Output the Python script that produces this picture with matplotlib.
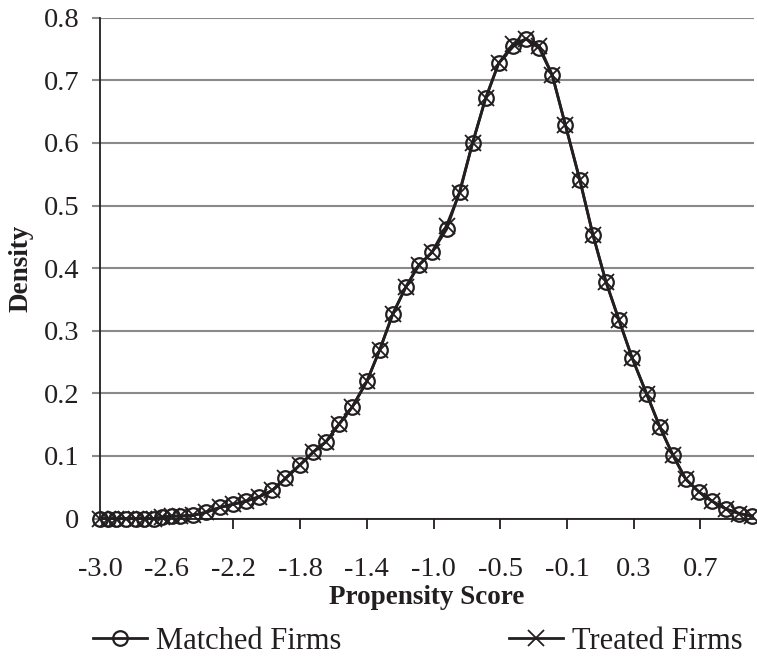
import matplotlib
matplotlib.use("Agg")
import matplotlib.pyplot as plt

plt.rcParams['font.family'] = ['Liberation Serif', 'DejaVu Serif']

# propensity score grid (x) and kernel density of both groups
score = [-3.00, -2.95, -2.90, -2.84, -2.78, -2.73, -2.67, -2.62, -2.56, -2.51,
         -2.43, -2.35, -2.26, -2.18, -2.10, -2.02, -1.94, -1.86, -1.77, -1.69,
         -1.61, -1.53, -1.45, -1.36, -1.28, -1.20, -1.12, -1.04, -0.96, -0.87,
         -0.79, -0.71, -0.63, -0.55, -0.46, -0.38, -0.30, -0.22, -0.14, -0.05,
         0.03, 0.11, 0.19, 0.27, 0.36, 0.44, 0.52, 0.60, 0.68, 0.76,
         0.85, 0.93, 1.01]
matched = [0.000, 0.000, 0.000, 0.000, 0.000, 0.000, 0.000, 0.002, 0.004, 0.004,
           0.005, 0.010, 0.018, 0.023, 0.028, 0.035, 0.045, 0.064, 0.086, 0.106,
           0.123, 0.151, 0.178, 0.219, 0.270, 0.327, 0.370, 0.405, 0.425, 0.462,
           0.522, 0.600, 0.671, 0.727, 0.754, 0.766, 0.751, 0.708, 0.629, 0.540,
           0.453, 0.378, 0.317, 0.257, 0.199, 0.147, 0.102, 0.063, 0.043, 0.028,
           0.015, 0.008, 0.004]
treated = [0.000, 0.000, 0.000, 0.000, 0.000, 0.000, 0.000, 0.002, 0.004, 0.004,
           0.005, 0.010, 0.018, 0.023, 0.028, 0.035, 0.045, 0.064, 0.086, 0.106,
           0.123, 0.151, 0.178, 0.219, 0.270, 0.327, 0.370, 0.405, 0.425, 0.468,
           0.520, 0.600, 0.671, 0.727, 0.758, 0.766, 0.755, 0.708, 0.629, 0.540,
           0.453, 0.378, 0.317, 0.257, 0.199, 0.147, 0.102, 0.063, 0.043, 0.028,
           0.015, 0.008, 0.004]

xtick_pos = [-3.0, -2.59, -2.18, -1.77, -1.36, -0.95, -0.54, -0.13, 0.28, 0.69]
xtick_labels = ['-3.0', '-2.6', '-2.2', '-1.8', '-1.4', '-1.0', '-0.5', '-0.1', '0.3', '0.7']
ytick_pos = [0, 0.1, 0.2, 0.3, 0.4, 0.5, 0.6, 0.7, 0.8]
ytick_labels = ['0', '0.1', '0.2', '0.3', '0.4', '0.5', '0.6', '0.7', '0.8']

ink = '#231f20'
grid_col = '#8a8a8a'

fig = plt.figure(figsize=(7.57, 6.57), dpi=100)
ax = fig.add_axes([0.1321, 0.2107, 0.864, 0.7624])

ax.plot(score, matched, color=ink, lw=2.0, marker='o', ms=10.5, mfc='none',
        mec=ink, mew=1.6, clip_on=False, zorder=3, label='Matched Firms')
ax.plot(score, treated, color=ink, lw=2.0, marker='x', ms=12,
        mec=ink, mew=1.3, clip_on=False, zorder=4, label='Treated Firms')

ax.set_xlim(-3.0, 1.02)
ax.set_ylim(0, 0.8)

ax.set_yticks(ytick_pos, ytick_labels)
ax.set_xticks(xtick_pos, xtick_labels)
ax.yaxis.grid(True, color=grid_col, lw=1.5)
ax.set_axisbelow(True)

for s in ['top', 'right']:
    ax.spines[s].set_visible(False)
ax.spines['left'].set_color(ink)
ax.spines['left'].set_linewidth(1.3)
ax.spines['bottom'].set_color(ink)
ax.spines['bottom'].set_linewidth(1.3)

ax.tick_params(axis='y', length=6, width=1.5, color=grid_col, pad=9,
               labelsize=20.5, labelcolor=ink)
ax.tick_params(axis='x', length=7, width=1.3, color=ink, pad=21,
               labelsize=20.5, labelcolor=ink)
# no tick marks under the first two labels in the original
for t in ax.xaxis.get_major_ticks()[:2]:
    t.tick1line.set_visible(False)

ax.set_xlabel('Propensity Score', fontsize=19.5, fontweight='bold', color=ink)
ax.xaxis.set_label_coords(0.5, -0.133)
ax.set_ylabel('Density', fontsize=19.5, fontweight='bold', color=ink)
ax.yaxis.set_label_coords(-0.102, 0.5)

fig.legend(loc='center', bbox_to_anchor=(0.552, 0.024), ncol=2, frameon=False,
           fontsize=22, handlelength=1.75, handletextpad=0.3,
           columnspacing=5.5, labelcolor=ink)

fig.savefig('out.png', dpi=100)
